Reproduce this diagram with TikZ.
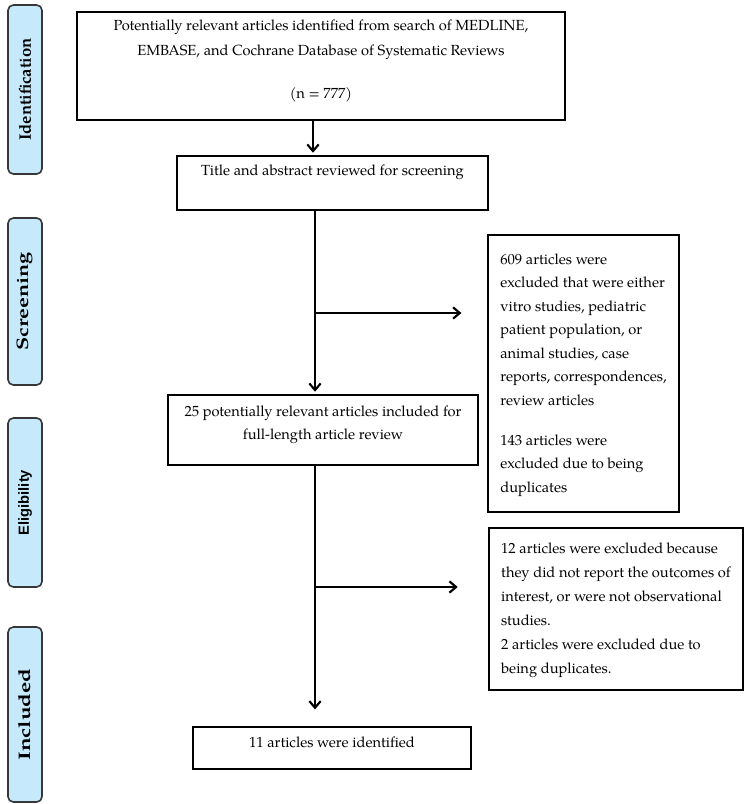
\documentclass[tikz,border=0pt]{standalone}
\usepackage{graphicx}
\usepackage{fontspec}
\setmainfont{TeX Gyre Pagella}
\newfontfamily\elifont{Liberation Sans}
\usetikzlibrary{arrows.meta,fit}
\definecolor{sidefill}{RGB}{198,234,251}
\definecolor{sideline}{RGB}{55,55,55}
\begin{document}
\begin{tikzpicture}[x=0.75pt,y=-0.75pt,
  sidebox/.style={draw=sideline, line width=1.2pt, fill=sidefill, rounded corners=4pt,
    rotate=90, minimum height=25.5pt, inner sep=0pt,
    font=\fontsize{12.5}{14}\selectfont\bfseries},
  mainbox/.style={draw=black, line width=0.9pt, inner sep=0pt, align=center,
    font=\fontsize{11}{18.75}\selectfont},
  sidetext/.style={draw=black, line width=0.9pt, inner sep=0pt},
  flow/.style={line width=1.6pt},
  arr/.style={flow, -{Straight Barb[length=5pt,width=8.5pt]}},
]
\useasboundingbox (0,0) rectangle (750,804);

% side labels
\node[sidebox, minimum width=126.75pt] (sid) at (25,89.5) {Identification};
\node[sidebox, minimum width=125.25pt] (scr) at (25,301.5) {\scalebox{1.3}[1]{Screening}\hspace{19.5pt}};
\node[sidebox, minimum width=126.75pt, font=\elifont\fontsize{11}{13}\selectfont\bfseries] (eli) at (25,502.5) {Eligibility};
\node[sidebox, minimum width=131.25pt] (inc) at (25,714.5) {\scalebox{1.35}[1]{Included}\hspace{16.5pt}};

% main boxes
\node[mainbox, fit={(77,12) (565,120)}] (b1) {Potentially relevant articles identified from search of MEDLINE,\\
EMBASE, and Cochrane Database of Systematic Reviews\\[13.5pt]
(n = 777)};
\node[mainbox, fit={(177,156) (488,210)}, font=\fontsize{11}{12}\selectfont] (b2) {Title and abstract reviewed for screening\\ \mbox{}};
\node[sidetext, minimum width=143.25pt, minimum height=207.75pt,
  font=\fontsize{11}{17.6}\selectfont] (ea) at (583.5,373.5) {\begin{tabular}{@{}l@{}}609 articles were\\
excluded that were either\\
vitro studies, pediatric\\
patient population, or\\
animal studies, case\\
reports, correspondences,\\
review articles\\[12.4pt]
143 articles were\\
excluded due to being\\
duplicates\end{tabular}};
\node[mainbox, fit={(168,395) (478,465)}, font=\fontsize{11}{17.5}\selectfont] (b3) {25 potentially relevant articles included for\\
full-length article review};
\node[sidetext, minimum width=190.5pt, minimum height=121.5pt,
  font=\fontsize{11}{18}\selectfont] (eb) at (616,609) {\begin{tabular}{@{}l@{}}12 articles were excluded because\\
they did not report the outcomes of\\
interest, or were not observational\\
studies.\\
2 articles were excluded due to\\
being duplicates.\end{tabular}};
\node[mainbox, fit={(193,727) (471,769)}] (b4) {11 articles were identified};

% connectors
\coordinate (vx) at (315,0);
\coordinate (ax) at (313,0);
\coordinate (br1) at (315,313);
\coordinate (br2) at (315,587);
\draw[arr, shorten >=2pt] (b1.south -| ax) -- (b2.north -| ax);
\draw[arr, shorten >=2pt] (b2.south -| vx) -- (b3.north -| vx);
\draw[arr, shorten >=19.5pt] (br1) -- (br1 -| ea.west);
\draw[arr, shorten >=12.75pt] (b3.south -| vx) -- (b4.north -| vx);
\draw[arr, shorten >=23pt] (br2) -- (br2 -| eb.west);
\end{tikzpicture}
\end{document}
